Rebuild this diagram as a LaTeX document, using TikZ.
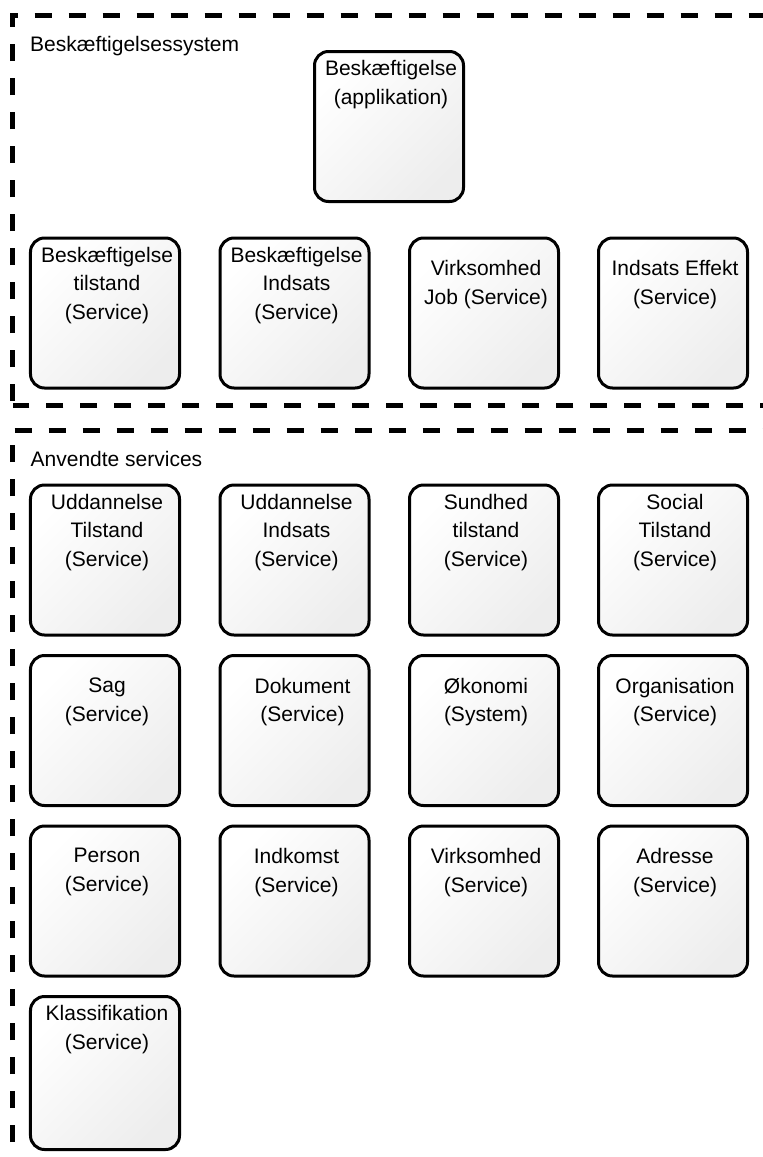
\documentclass[tikz,border=0pt]{standalone}
\usepackage{fontspec}
\setmainfont{Liberation Sans}
\usetikzlibrary{positioning}

\tikzset{
  frame/.style={line width=5bp, dash pattern=on 17bp off 17bp, dash phase=30bp},
  svcbox/.style={draw, line width=3bp, rounded corners=14bp, outer sep=0pt, inner sep=0pt,
    minimum width=149bp, minimum height=150bp,
    top color=white, bottom color=black!7, shading angle=45},
  txt/.style={inner sep=0pt, align=center, text=black,
    font=\fontsize{21bp}{28.5bp}\selectfont},
  grouplabel/.style={inner sep=0pt, anchor=base west, text=black,
    font=\fontsize{21bp}{25bp}\selectfont},
  % first text line high in the box / one line lower
  high/.style={below=8.8bp of #1.north, xshift=2bp},
  low/.style={below=22.3bp of #1.north, xshift=2bp}
}

\begin{document}
\begin{tikzpicture}[x=1bp, y=-1bp]
\useasboundingbox (0,0) rectangle (763,1157);
\clip (0,0) rectangle (763,1157);

% ---- group frames (right side runs just past the page edge) ----
\draw[frame] (12.5,405) -- (12.5,15) -- (772,15) -- (772,405) -- cycle;
\draw[frame] (12.5,1180) -- (12.5,430) -- (772,430) -- (772,1180);

\node[grouplabel] (g1) at (30,51.7) {Beskæftigelsessystem};
\node[grouplabel] (g2) at (30.5,466.7) {Anvendte services};

% ---- employment system ----
\node[svcbox] (app) at (389,126.5) {};
\node[txt, high=app] (tapp) {Beskæftigelse\\(applikation)};

\node[svcbox] (s1) at (105,313) {};
\node[svcbox] (s2) at (294.5,313) {};
\node[svcbox] (s3) at (484,313) {};
\node[svcbox] (s4) at (673,313) {};
\node[txt, high=s1] (ts1) {Beskæftigelse\\tilstand\\(Service)};
\node[txt, high=s2] (ts2) {Beskæftigelse\\Indsats\\(Service)};
\node[txt, low=s3] (ts3) {Virksomhed\\Job (Service)};
\node[txt, low=s4] (ts4) {Indsats Effekt\\(Service)};

% ---- services in use ----
\node[svcbox] (a1) at (105,560) {};
\node[svcbox] (a2) at (294.5,560) {};
\node[svcbox] (a3) at (484,560) {};
\node[svcbox] (a4) at (673,560) {};
\node[txt, high=a1] (ta1) {Uddannelse\\Tilstand\\(Service)};
\node[txt, high=a2] (ta2) {Uddannelse\\Indsats\\(Service)};
\node[txt, high=a3] (ta3) {Sundhed\\tilstand\\(Service)};
\node[txt, high=a4] (ta4) {Social\\Tilstand\\(Service)};

\node[svcbox] (b1) at (105,730.5) {};
\node[svcbox] (b2) at (294.5,730.5) {};
\node[svcbox] (b3) at (484,730.5) {};
\node[svcbox] (b4) at (673,730.5) {};
\node[txt, low=b1] (tb1) {Sag\\(Service)};
\node[txt, low=b2, xshift=6bp] (tb2) {Dokument\\(Service)};
\node[txt, low=b3] (tb3) {Økonomi\\(System)};
\node[txt, low=b4] (tb4) {Organisation\\(Service)};

\node[svcbox] (c1) at (105,901) {};
\node[svcbox] (c2) at (294.5,901) {};
\node[svcbox] (c3) at (484,901) {};
\node[svcbox] (c4) at (673,901) {};
\node[txt, low=c1] (tc1) {Person\\(Service)};
\node[txt, low=c2] (tc2) {Indkomst\\(Service)};
\node[txt, low=c3] (tc3) {Virksomhed\\(Service)};
\node[txt, low=c4] (tc4) {Adresse\\(Service)};

\node[svcbox, minimum height=153bp] (d1) at (105,1073) {};
\node[txt, high=d1] (td1) {Klassifikation\\(Service)};
\end{tikzpicture}
\end{document}
